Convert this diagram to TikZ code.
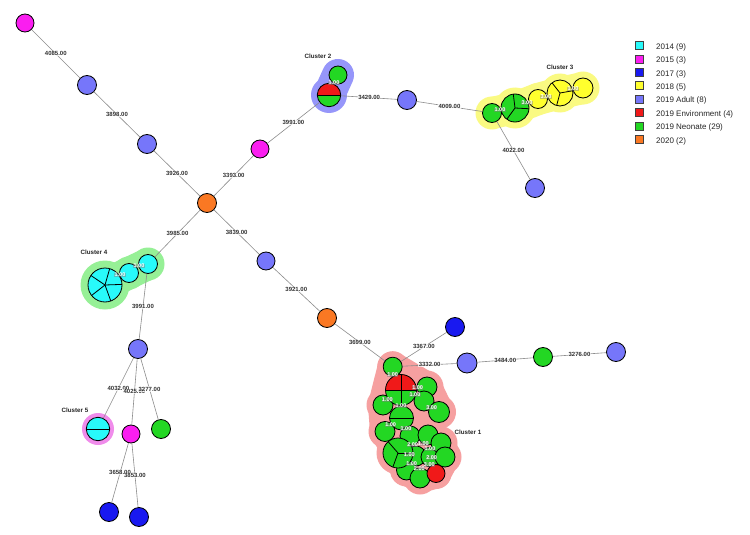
\documentclass[tikz,border=0pt]{standalone}
\usepackage{fontspec}
\setmainfont{Liberation Sans}
\definecolor{c14}{RGB}{40,250,250}
\definecolor{c15}{RGB}{250,30,240}
\definecolor{c17}{RGB}{25,25,240}
\definecolor{c18}{RGB}{255,255,45}
\definecolor{cad}{RGB}{118,118,250}
\definecolor{cenv}{RGB}{240,25,25}
\definecolor{cneo}{RGB}{35,215,35}
\definecolor{c20}{RGB}{250,120,35}
\definecolor{h1}{RGB}{246,160,160}
\definecolor{h2}{RGB}{150,150,250}
\definecolor{h3}{RGB}{250,250,130}
\definecolor{h4}{RGB}{150,240,150}
\definecolor{h5}{RGB}{240,140,235}
\tikzset{
  nd/.style={circle, draw=black, line width=0.8pt, inner sep=0pt, minimum size=#1},
  spokes/.style={path picture={\foreach \a in {#1} {\draw[line width=0.8pt] (path picture bounding box.center) -- ++(\a:40);}}},
  rhalf/.style={path picture={
     \fill[cenv] ([xshift=-25pt]path picture bounding box.center) rectangle ([xshift=25pt,yshift=25pt]path picture bounding box.center);
     \draw[line width=0.8pt] ([xshift=-25pt]path picture bounding box.center) -- ([xshift=25pt]path picture bounding box.center);}},
  rquad/.style={path picture={
     \fill[cenv] ([xshift=-25pt]path picture bounding box.center) rectangle ([xshift=25pt,yshift=25pt]path picture bounding box.center);
     \draw[line width=0.8pt] ([xshift=-25pt]path picture bounding box.center) -- ([xshift=25pt]path picture bounding box.center);
     \draw[line width=0.8pt] ([yshift=-25pt]path picture bounding box.center) -- ([yshift=25pt]path picture bounding box.center);}},
  edge/.style={draw=black!45, line width=0.6pt},
  elab/.style={font=\fontsize{6}{6}\selectfont\bfseries, text=black!80, fill=white, fill opacity=0.7, text opacity=1, inner sep=0.4pt},
  clab/.style={font=\fontsize{5.5}{5.5}\selectfont\bfseries, text=white, fill=black!50, fill opacity=0.45, text opacity=1, inner sep=0.3pt},
  cname/.style={font=\fontsize{6.2}{6.2}\selectfont\bfseries, text=black!85},
  legsq/.style={draw=black!75, line width=0.6pt, minimum size=8pt, inner sep=0pt},
  legtx/.style={font=\fontsize{8}{9}\selectfont, text=black!85, anchor=west, inner sep=0pt},
  hull/.style={line join=round, line cap=round},
}
\begin{document}
\begin{tikzpicture}[x=1pt,y=-1pt]
\useasboundingbox[fill=white] (0,0) rectangle (750,535);
% ---------- positions ----------
\coordinate (pm1) at (25,23);
\coordinate (pa1) at (87,85);
\coordinate (pa2) at (147,144);
\coordinate (po1) at (207,203);
\coordinate (pm2) at (260,149);
\coordinate (pg2a) at (338,75);
\coordinate (pg2b) at (329,95);
\coordinate (pa3) at (407,100);
\coordinate (pg3a) at (492,113);
\coordinate (pg3b) at (515,108);
\coordinate (py3a) at (538,99);
\coordinate (py3b) at (560,93);
\coordinate (py3c) at (583,88);
\coordinate (pa4) at (535,188);
\coordinate (pa5) at (266,261);
\coordinate (po2) at (327,318);
\coordinate (pb1) at (455,327);
\coordinate (pa6) at (467,363);
\coordinate (pg4) at (543,357);
\coordinate (pa7) at (616,352);
\coordinate (pk1) at (392.7,366.7);
\coordinate (pk2) at (401,390);
\coordinate (pk3) at (427,387);
\coordinate (pk4) at (424,401);
\coordinate (pk5) at (439,412);
\coordinate (pk6) at (383,405);
\coordinate (pk7) at (401.5,418);
\coordinate (pk8) at (385,431.5);
\coordinate (pk9) at (398,453);
\coordinate (pr1) at (410,436);
\coordinate (pr2) at (428,435);
\coordinate (pr3) at (441,443);
\coordinate (pr4) at (445,457);
\coordinate (pr5) at (436,473.5);
\coordinate (pr6) at (420,478);
\coordinate (pr7) at (406.5,470);
\coordinate (pr8) at (416,456);
\coordinate (pr9) at (431,457);
\coordinate (pc4a) at (105,285);
\coordinate (pc4b) at (129,273);
\coordinate (pc4c) at (148,264);
\coordinate (pa8) at (138,349);
\coordinate (pc5) at (98,429);
\coordinate (pm3) at (131,434);
\coordinate (pg5) at (161,429);
\coordinate (pb2) at (109,512);
\coordinate (pb3) at (139,517);
% ---------- hulls ----------
% cluster 1
\filldraw[h1, hull, line width=30pt] (pk1) -- (pk3) -- (pk5) -- (pk4) -- (pk7) -- (pr1) -- (pr2) -- (pr3) -- (pr4)
  -- (pr5) -- (pr6) -- (pr7) -- (pk9) -- (pk8) -- (pk6) -- cycle;
\fill[h1] (pk1) circle[radius=15.5] (pk2) circle[radius=22] (pk3) circle[radius=16.5] (pk4) circle[radius=16.5]
  (pk5) circle[radius=17] (pk6) circle[radius=16.5] (pk7) circle[radius=18.5] (pk8) circle[radius=16.5]
  (pk9) circle[radius=21.5] (pr1) circle[radius=16.5] (pr2) circle[radius=16.5] (pr3) circle[radius=16.5]
  (pr4) circle[radius=16.5] (pr5) circle[radius=15.5] (pr6) circle[radius=16.5] (pr7) circle[radius=16.5];
% cluster 2
\draw[h2, hull, line width=32pt] (pg2a) -- (pg2b);
\fill[h2] (pg2b) circle[radius=18];
% cluster 3
\draw[h3, hull, line width=32pt] (pg3a) -- (pg3b) -- (py3a) -- (py3b) -- (py3c);
\fill[h3] (pg3a) circle[radius=16.5] (pg3b) circle[radius=20.5] (py3a) circle[radius=16] (py3b) circle[radius=19.5] (py3c) circle[radius=16.5];
% cluster 4
\draw[h4, hull, line width=32pt] (pc4a) -- (pc4b) -- (pc4c);
\fill[h4] (pc4a) circle[radius=24.5] (pc4b) circle[radius=16.5] (pc4c) circle[radius=16.5];
% cluster 5
\fill[h5] (pc5) circle[radius=16];
% ---------- nodes ----------
\node[nd=18pt, fill=c15] (m1) at (pm1) {};
\node[nd=19pt, fill=cad] (a1) at (pa1) {};
\node[nd=19pt, fill=cad] (a2) at (pa2) {};
\node[nd=19pt, fill=c20] (o1) at (po1) {};
\node[nd=18pt, fill=c15] (m2) at (pm2) {};
\node[nd=18pt, fill=cneo] (g2a) at (pg2a) {};
\node[nd=23.4pt, fill=cneo, rhalf] (g2b) at (pg2b) {};
\node[nd=19pt, fill=cad] (a3) at (pa3) {};
\node[nd=19pt, fill=cneo] (g3a) at (pg3a) {};
\node[nd=28pt, fill=cneo, spokes={263,3,126}] (g3b) at (pg3b) {};
\node[nd=19pt, fill=c18] (y3a) at (py3a) {};
\node[nd=26pt, fill=c18, spokes={232,350,105}] (y3b) at (py3b) {};
\node[nd=20pt, fill=c18] (y3c) at (py3c) {};
\node[nd=19pt, fill=cad] (a4) at (pa4) {};
\node[nd=18pt, fill=cad] (a5) at (pa5) {};
\node[nd=19pt, fill=c20] (o2) at (po2) {};
\node[nd=19pt, fill=c17] (b1) at (pb1) {};
\node[nd=20pt, fill=cad] (a6) at (pa6) {};
\node[nd=19pt, fill=cneo] (g4) at (pg4) {};
\node[nd=19pt, fill=cad] (a7) at (pa7) {};
% cluster 1
\node[nd=20pt, fill=cneo] (r8) at (pr8) {};
\node[nd=20pt, fill=cneo] (r9) at (pr9) {};
\node[nd=19pt, fill=cneo] (k1) at (pk1) {};
\node[nd=20pt, fill=cneo] (k3) at (pk3) {};
\node[nd=20pt, fill=cneo] (k4) at (pk4) {};
\node[nd=21pt, fill=cneo] (k5) at (pk5) {};
\node[nd=20pt, fill=cneo] (k6) at (pk6) {};
\node[nd=31pt, fill=cneo, rquad] (k2) at (pk2) {};
\node[nd=20pt, fill=cneo] (k8) at (pk8) {};
\node[nd=24pt, fill=cneo, spokes={0,180}] (k7) at (pk7) {};
\node[nd=20pt, fill=cneo] (r1) at (pr1) {};
\node[nd=20pt, fill=cneo] (r2) at (pr2) {};
\node[nd=20pt, fill=cneo] (r3) at (pr3) {};
\node[nd=20pt, fill=cneo] (r4) at (pr4) {};
\node[nd=20pt, fill=cneo] (r7) at (pr7) {};
\node[nd=20pt, fill=cneo] (r6) at (pr6) {};
\node[nd=18pt, fill=cenv] (r5) at (pr5) {};
\node[nd=30pt, fill=cneo, spokes={229,0,110}] (k9) at (pk9) {};
% cluster 4 / 5 and bottom left
\node[nd=34pt, fill=c14, spokes={214,286,358,70,142}] (c4a) at (pc4a) {};
\node[nd=19pt, fill=c14] (c4b) at (pc4b) {};
\node[nd=19pt, fill=c14] (c4c) at (pc4c) {};
\node[nd=19pt, fill=cad] (a8) at (pa8) {};
\node[nd=23.4pt, fill=c14, spokes={0,180}] (c5) at (pc5) {};
\node[nd=18pt, fill=c15] (m3) at (pm3) {};
\node[nd=19pt, fill=cneo] (g5) at (pg5) {};
\node[nd=19pt, fill=c17] (b2) at (pb2) {};
\node[nd=19pt, fill=c17] (b3) at (pb3) {};
% ---------- connectors ----------
\draw[edge] (m1) -- (a1) node[midway, elab] {4085.00};
\draw[edge] (a1) -- (a2) node[midway, elab] {3898.00};
\draw[edge] (a2) -- (o1) node[midway, elab] {3926.00};
\draw[edge] (o1) -- (m2) node[midway, elab] {3393.00};
\draw[edge] (m2) -- (g2b) node[midway, elab] {3991.00};
\draw[edge] (g2b) -- (a3) node[midway, elab] {3429.00};
\draw[edge] (a3) -- (g3a) node[midway, elab] {4009.00};
\draw[edge] (g3a) -- (a4) node[midway, elab] {4022.00};
\draw[edge] (o1) -- (a5) node[midway, elab] {3839.00};
\draw[edge] (a5) -- (o2) node[midway, elab] {3921.00};
\draw[edge] (o2) -- (k1) node[midway, elab] {3699.00};
\draw[edge] (b1) -- (k1) node[midway, elab] {3367.00};
\draw[edge] (k1) -- (a6) node[midway, elab] {3332.00};
\draw[edge] (a6) -- (g4) node[midway, elab] {3484.00};
\draw[edge] (g4) -- (a7) node[midway, elab] {3276.00};
\draw[edge] (o1) -- (c4c) node[midway, elab] {3985.00};
\draw[edge] (c4c) -- (a8) node[midway, elab] {3991.00};
\draw[edge] (a8) -- (c5) node[midway, elab] {4032.00};
\draw[edge] (a8) -- (m3) node[midway, elab] {4025.00};
\draw[edge] (a8) -- (g5) node[midway, elab] {3277.00};
\draw[edge] (m3) -- (b2) node[midway, elab] {3658.00};
\draw[edge] (m3) -- (b3) node[midway, elab] {3853.00};
% ---------- cluster-internal labels ----------
\node[clab] (q1) at (334,83) {1.00};
\node[clab] (q2) at (500,110) {1.00};
\node[clab] (q3) at (527,103) {3.00};
\node[clab] (q4) at (546,97) {3.00};
\node[clab] (q5) at (573,89) {1.00};
\node[clab] (q6) at (120,275) {1.00};
\node[clab] (q7) at (139,266) {1.00};
\node[clab] (s1) at (392.7,374.3) {1.00};
\node[clab] (s2) at (417.7,387.7) {1.00};
\node[clab] (s3) at (415,395) {1.00};
\node[clab] (s4) at (387.3,399.3) {1.00};
\node[clab] (s5) at (401,406) {1.00};
\node[clab] (s6) at (431.7,407.3) {3.00};
\node[clab] (s7) at (390.7,425) {1.00};
\node[clab] (s8) at (406,428.3) {1.00};
\node[clab] (s9) at (412.7,445) {2.00};
\node[clab] (s10) at (423.3,443.3) {1.00};
\node[clab] (s11) at (430,449) {1.00};
\node[clab] (s12) at (409.3,454.3) {1.00};
\node[clab] (s13) at (431.7,457.7) {2.00};
\node[clab] (s14) at (411.7,464) {1.00};
\node[clab] (s15) at (419.3,468.3) {2.00};
\node[clab] (s16) at (429.3,464.3) {3.00};
% ---------- cluster names ----------
\node[cname] (n1) at (468,432) {Cluster 1};
\node[cname] (n2) at (318,56) {Cluster 2};
\node[cname] (n3) at (560,67) {Cluster 3};
\node[cname] (n4) at (94,252) {Cluster 4};
\node[cname] (n5) at (75,410) {Cluster 5};
% ---------- legend ----------
\node[legsq, fill=c14]  (L1) at (639,45.5) {};  \node[legtx] (T1) at (656,47.3) {2014 (9)};
\node[legsq, fill=c15]  (L2) at (639,58.9) {};  \node[legtx] (T2) at (656,60.7) {2015 (3)};
\node[legsq, fill=c17]  (L3) at (639,72.3) {};  \node[legtx] (T3) at (656,74.1) {2017 (3)};
\node[legsq, fill=c18]  (L4) at (639,85.7) {};  \node[legtx] (T4) at (656,87.5) {2018 (5)};
\node[legsq, fill=cad]  (L5) at (639,99.1) {};  \node[legtx] (T5) at (656,100.9) {2019 Adult (8)};
\node[legsq, fill=cenv] (L6) at (639,112.5) {}; \node[legtx] (T6) at (656,114.3) {2019 Environment (4)};
\node[legsq, fill=cneo] (L7) at (639,125.9) {}; \node[legtx] (T7) at (656,127.7) {2019 Neonate (29)};
\node[legsq, fill=c20]  (L8) at (639,139.3) {}; \node[legtx] (T8) at (656,141.1) {2020 (2)};
\end{tikzpicture}
\end{document}
